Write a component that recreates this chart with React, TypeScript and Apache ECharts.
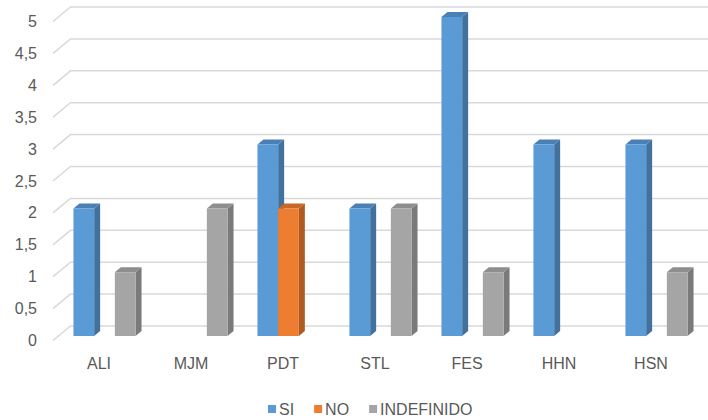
import React, { useEffect, useRef } from 'react';
import * as echarts from 'echarts';

const categories = ['ALI', 'MJM', 'PDT', 'STL', 'FES', 'HHN', 'HSN'];
const siValues = [2, 0, 3, 2, 5, 3, 3];
const noValues = [0, 0, 2, 0, 0, 0, 0];
const indefValues = [1, 2, 0, 2, 1, 0, 1];
const yTicks = [0, 0.5, 1, 1.5, 2, 2.5, 3, 3.5, 4, 4.5, 5];
const seriesNames = ['SI', 'NO', 'INDEFINIDO'];

const faceColors = ['#5B9BD5', '#ED7D31', '#A5A5A5'];
const sideColors = ['#41719C', '#AE5A21', '#7A7A7A'];
const topColors = ['#4A80B4', '#C86728', '#8E8E8E'];

const FONT = 'Liberation Sans, Arial, sans-serif';
const TEXT = '#595959';
// offset of the bar plane from the front plane
const BDX = 5.5;
const BDY = -4.5;
// bar depth
const DEPTH_X = 6;
const DEPTH_Y = -5;
// wall depth
const WDX = 17.5;
const WDY = -14.5;

function makeBarSeries(idx: number, values: number[]) {
  return {
    type: 'custom',
    name: seriesNames[idx],
    z: 3,
    itemStyle: { color: faceColors[idx] },
    data: values.map((v, i) => [i, v]),
    renderItem: (params: any, api: any) => {
      const cat = api.value(0);
      const val = api.value(1);
      if (!val) return { type: 'group', children: [] };
      const top = api.coord([cat, val]);
      const base = api.coord([cat, 0]);
      const band = api.size([1, 0])[0];
      const bw = band * 0.225;
      const x0 = top[0] + (idx - 1.5) * bw + BDX;
      const yt = top[1] + BDY;
      const yb = base[1] + BDY;
      const x1 = x0 + bw;
      return {
        type: 'group',
        children: [
          {
            type: 'polygon',
            shape: {
              points: [
                [x1, yt],
                [x1 + DEPTH_X, yt + DEPTH_Y],
                [x1 + DEPTH_X, yb + DEPTH_Y],
                [x1, yb],
              ],
            },
            style: { fill: sideColors[idx] },
          },
          {
            type: 'polygon',
            shape: {
              points: [
                [x0, yt],
                [x0 + DEPTH_X, yt + DEPTH_Y],
                [x1 + DEPTH_X, yt + DEPTH_Y],
                [x1, yt],
              ],
            },
            style: { fill: topColors[idx] },
          },
          {
            type: 'rect',
            shape: { x: x0, y: yt, width: bw, height: yb - yt },
            style: { fill: faceColors[idx] },
          },
        ],
      };
    },
  };
}

export default function App() {
  const ref = useRef<HTMLDivElement>(null);
  useEffect(() => {
    if (!ref.current) return;
    const chart = echarts.init(ref.current, null, { renderer: 'svg' });
    chart.setOption({
      animation: false,
      backgroundColor: '#ffffff',
      grid: { left: 53, right: 11, top: 21.5, bottom: 79.5, containLabel: false },
      xAxis: {
        type: 'category',
        data: categories,
        axisLine: { show: false },
        axisTick: { show: false },
        splitLine: { show: false },
        axisLabel: { margin: 15, fontSize: 16, color: TEXT, fontFamily: FONT },
      },
      yAxis: {
        type: 'value',
        min: 0,
        max: 5,
        interval: 0.5,
        axisLine: { show: false },
        axisTick: { show: false },
        splitLine: { show: false },
        axisLabel: {
          margin: 16,
          fontSize: 16,
          color: TEXT,
          fontFamily: FONT,
          formatter: (v: number) => String(v).replace('.', ','),
        },
      },
      legend: {
        data: seriesNames,
        top: 401,
        left: 268,
        padding: 0,
        icon: 'rect',
        itemWidth: 8,
        itemHeight: 8,
        itemGap: 20,
        textStyle: { fontSize: 16, color: TEXT, fontFamily: FONT, padding: [0, 0, 0, -2] },
      },
      series: [
        {
          type: 'custom',
          name: 'grid',
          z: 1,
          silent: true,
          data: yTicks.map((v) => [0, v]),
          renderItem: (params: any, api: any) => {
            const y = api.coord([0, api.value(1)])[1];
            const cs = params.coordSys;
            return {
              type: 'polyline',
              shape: {
                points: [
                  [cs.x, y],
                  [cs.x + WDX, y + WDY],
                  [cs.x + cs.width + WDX + 10, y + WDY],
                ],
              },
              style: { stroke: '#D9D9D9', lineWidth: 1.5, fill: null },
            };
          },
        },
        makeBarSeries(0, siValues),
        makeBarSeries(1, noValues),
        makeBarSeries(2, indefValues),
      ],
    });
    return () => chart.dispose();
  }, []);
  return (
    <div
      ref={ref}
      style={{ position: 'fixed', left: 0, top: 0, width: 708, height: 420 }}
    />
  );
}
